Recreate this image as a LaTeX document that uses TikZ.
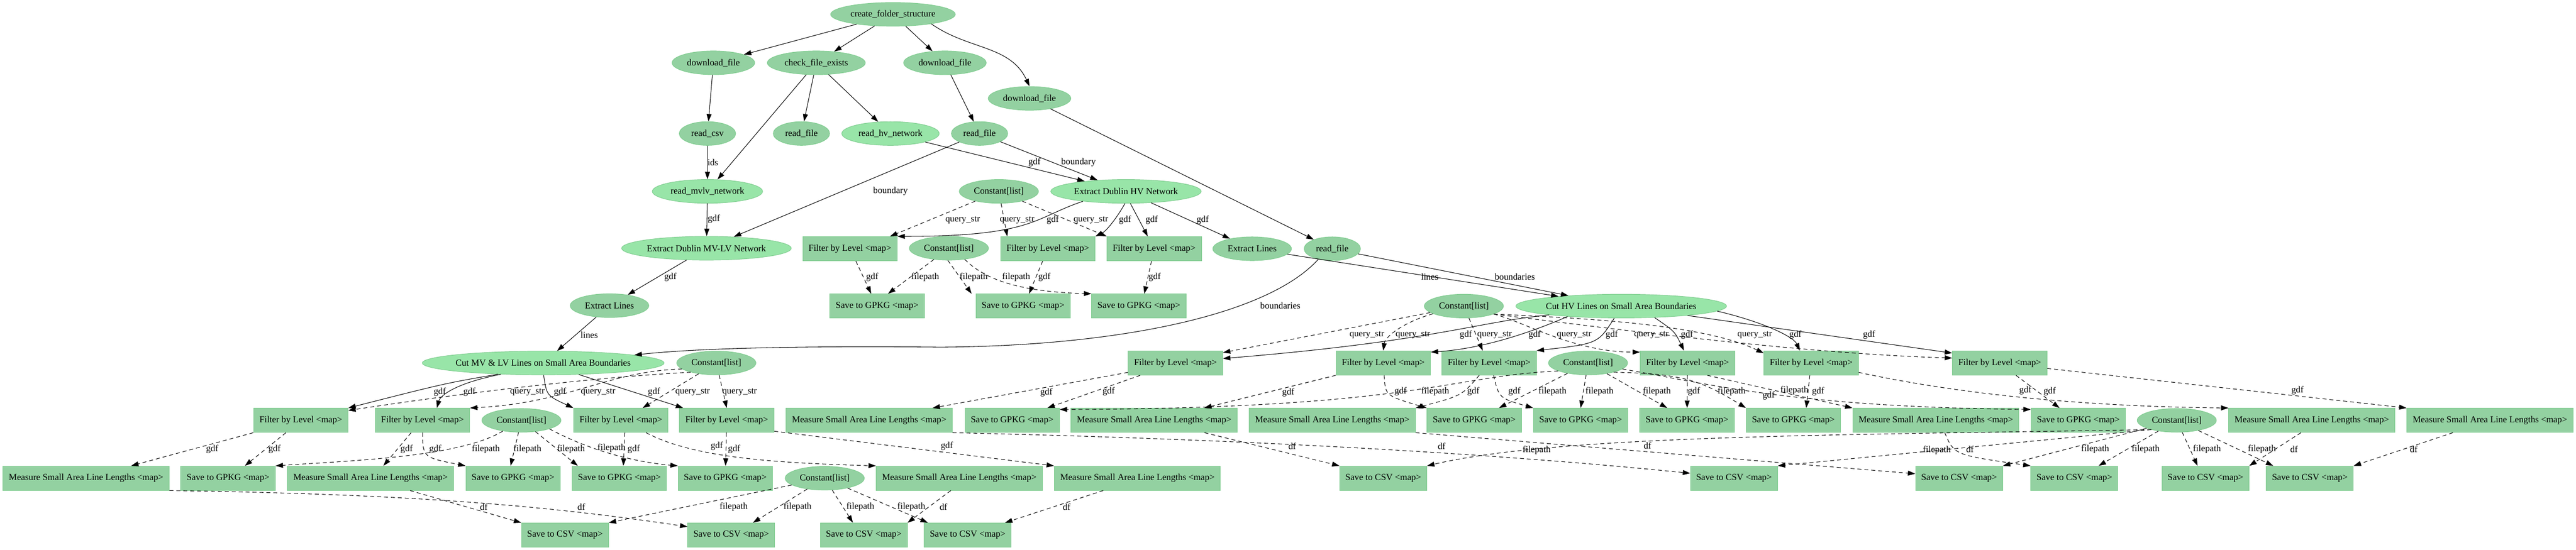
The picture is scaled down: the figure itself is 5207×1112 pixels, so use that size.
\documentclass[tikz,border=0pt]{standalone}
\usepackage{fontspec}
\setmainfont{Liberation Serif}
\usetikzlibrary{shapes.geometric,arrows.meta}
\definecolor{dk}{RGB}{147,209,161}
\definecolor{lt}{RGB}{152,229,168}
\definecolor{bd}{RGB}{126,204,142}
\newcommand{\mapt}{\textless map\textgreater}
\begin{document}
\begin{tikzpicture}[x=1pt,y=1pt,
  every node/.style={font=\fontsize{18.5}{20}\selectfont},
  elln/.style={ellipse, draw=bd, line width=1pt, fill=dk, minimum height=48pt, inner xsep=-12pt, inner ysep=0pt},
  lelln/.style={elln, fill=lt},
  kst/.style={elln, minimum width=160pt},
  boxn/.style={rectangle, draw=bd, line width=1pt, fill=dk, minimum height=49pt, inner sep=0pt},
  filt/.style={boxn, minimum width=191pt},
  gpkg/.style={boxn, minimum width=191pt},
  meas/.style={boxn, minimum width=336pt},
  csv/.style={boxn, minimum width=176pt},
  ed/.style={draw=black, line width=1.1pt, -{Triangle[length=15pt,width=10pt]}},
  dd/.style={ed, dash pattern=on 8pt off 6pt},
  lab/.style={inner sep=0pt}]
\useasboundingbox (0,0) rectangle (5207,-1112);
% ---------- nodes ----------
\node[elln, minimum width=252pt] (cfs) at (1805,-29) {create\_folder\_structure};
\node[elln, minimum width=167pt] (dl1) at (1442,-127) {download\_file};
\node[elln, minimum width=198pt] (cfe) at (1650,-127) {check\_file\_exists};
\node[elln, minimum width=167pt] (dl2) at (1910,-127) {download\_file};
\node[elln, minimum width=167pt] (dl3) at (2081,-199) {download\_file};
\node[elln, minimum width=114pt] (rcsv) at (1430,-270) {read\_csv};
\node[elln, minimum width=114pt] (rf1) at (1620,-270) {read\_file};
\node[lelln, minimum width=197pt] (rhv) at (1800,-270) {read\_hv\_network};
\node[elln, minimum width=114pt] (rf2) at (1980,-270) {read\_file};
\node[lelln, minimum width=223pt] (rmvlv) at (1430,-387) {read\_mvlv\_network};
\node[kst] (k1) at (2019,-387) {Constant[list]};
\node[lelln, minimum width=304pt] (ehv) at (2276,-387) {Extract Dublin HV Network};
\node[lelln, minimum width=343pt] (emvlv) at (1428,-502) {Extract Dublin MV-LV Network};
\node[filt] (fa1) at (1718,-503) {Filter by Level \mapt};
\node[kst] (k2) at (1918,-502) {Constant[list]};
\node[filt] (fa2) at (2118,-503) {Filter by Level \mapt};
\node[filt] (fa3) at (2333,-503) {Filter by Level \mapt};
\node[elln, minimum width=159pt] (elhv) at (2531,-503) {Extract Lines};
\node[elln, minimum width=114pt] (rf3) at (2693,-503) {read\_file};
\node[gpkg] (sa1) at (1773,-619) {Save to GPKG \mapt};
\node[gpkg] (sa2) at (2068,-619) {Save to GPKG \mapt};
\node[gpkg] (sa3) at (2302,-619) {Save to GPKG \mapt};
\node[elln, minimum width=159pt] (elmv) at (1232,-618) {Extract Lines};
\node[kst] (k3) at (2959,-619) {Constant[list]};
\node[lelln, minimum width=426pt] (cuthv) at (3277,-619) {Cut HV Lines on Small Area Boundaries};
\node[lelln, minimum width=489pt] (cutmv) at (1098,-734) {Cut MV \& LV Lines on Small Area Boundaries};
\node[kst] (k4) at (1448,-734) {Constant[list]};
\node[filt] (fb1) at (2376,-734) {Filter by Level \mapt};
\node[filt] (fb2) at (2796,-734) {Filter by Level \mapt};
\node[filt] (fb3) at (3010,-734) {Filter by Level \mapt};
\node[kst] (k5) at (3210,-734) {Constant[list]};
\node[filt] (fb4) at (3411,-734) {Filter by Level \mapt};
\node[filt] (fb5) at (3661,-734) {Filter by Level \mapt};
\node[filt] (fb6) at (4042,-734) {Filter by Level \mapt};
% row 850
\node[filt] (fc1) at (608,-850) {Filter by Level \mapt};
\node[filt] (fc2) at (854,-850) {Filter by Level \mapt};
\node[kst] (k6) at (1054,-850) {Constant[list]};
\node[filt] (fc3) at (1255,-850) {Filter by Level \mapt};
\node[filt] (fc4) at (1469,-850) {Filter by Level \mapt};
\node[meas] (mh1) at (1757,-850) {Measure Small Area Line Lengths \mapt};
\node[gpkg] (gh1) at (2046,-850) {Save to GPKG \mapt};
\node[meas] (mh2) at (2333,-850) {Measure Small Area Line Lengths \mapt};
\node[meas] (mh3) at (2693,-850) {Measure Small Area Line Lengths \mapt};
\node[gpkg] (gh2) at (2980,-850) {Save to GPKG \mapt};
\node[gpkg] (gh3) at (3195,-850) {Save to GPKG \mapt};
\node[gpkg] (gh4) at (3410,-850) {Save to GPKG \mapt};
\node[gpkg] (gh5) at (3625,-850) {Save to GPKG \mapt};
\node[meas] (mh4) at (3913,-850) {Measure Small Area Line Lengths \mapt};
\node[gpkg] (gh6) at (4201,-850) {Save to GPKG \mapt};
\node[kst] (k7) at (4400,-850) {Constant[list]};
\node[meas] (mh5) at (4673,-850) {Measure Small Area Line Lengths \mapt};
\node[meas] (mh6) at (5033,-850) {Measure Small Area Line Lengths \mapt};
% row 967
\node[meas] (mm1) at (174,-967) {Measure Small Area Line Lengths \mapt};
\node[gpkg] (gm1) at (461,-967) {Save to GPKG \mapt};
\node[meas] (mm2) at (749,-967) {Measure Small Area Line Lengths \mapt};
\node[gpkg] (gm2) at (1037,-967) {Save to GPKG \mapt};
\node[gpkg] (gm3) at (1252,-967) {Save to GPKG \mapt};
\node[gpkg] (gm4) at (1466,-967) {Save to GPKG \mapt};
\node[kst] (k8) at (1667,-967) {Constant[list]};
\node[meas] (mm3) at (1939,-967) {Measure Small Area Line Lengths \mapt};
\node[meas] (mm4) at (2299,-967) {Measure Small Area Line Lengths \mapt};
\node[csv] (ch1) at (2796,-967) {Save to CSV \mapt};
\node[csv] (ch2) at (3505,-967) {Save to CSV \mapt};
\node[csv] (ch3) at (3960,-967) {Save to CSV \mapt};
\node[csv] (ch4) at (4193,-967) {Save to CSV \mapt};
\node[csv] (ch5) at (4458,-967) {Save to CSV \mapt};
\node[csv] (ch6) at (4669,-967) {Save to CSV \mapt};
% row 1082
\node[csv] (cm1) at (1142,-1082) {Save to CSV \mapt};
\node[csv] (cm2) at (1478,-1082) {Save to CSV \mapt};
\node[csv] (cm3) at (1746,-1082) {Save to CSV \mapt};
\node[csv] (cm4) at (1956,-1082) {Save to CSV \mapt};
% ---------- edges: top ----------
\draw[ed] (cfs) -- (dl1);
\draw[ed] (cfs) -- (cfe);
\draw[ed] (cfs) -- (dl2);
\draw[ed] (cfs.-14) to[out=-35,in=115] (dl3.north);
\draw[ed] (dl1) -- (rcsv);
\draw[ed] (cfe) -- (rmvlv);
\draw[ed] (cfe) -- (rf1);
\draw[ed] (cfe) -- (rhv);
\draw[ed] (dl2) -- (rf2);
\draw[ed] (dl3) -- (rf3);
\draw[ed] (rcsv) -- (rmvlv) node[lab] at (1441,-328) {ids};
\draw[ed] (rhv) -- (ehv) node[lab] at (2091,-328) {gdf};
\draw[ed] (rf2) -- (ehv) node[lab] at (2180,-328) {boundary};
\draw[ed] (rf2) -- (emvlv) node[lab] at (1800,-387) {boundary};
\draw[ed] (rmvlv) -- (emvlv) node[lab] at (1443,-443) {gdf};
\draw[ed] (emvlv) -- (elmv) node[lab] at (1355,-560) {gdf};
\draw[ed] (elmv) -- (cutmv) node[lab] at (1191,-677) {lines};
\draw[ed] (rf3.-143) .. controls (2560,-640) and (2250,-700) .. (1900,-702) .. controls (1600,-699) and (1400,-705) .. (cutmv.5) node[lab] at (2588,-618) {boundaries};
\draw[ed] (elhv) -- (cuthv) node[lab] at (2890,-560) {lines};
\draw[ed] (rf3) -- (cuthv) node[lab] at (3062,-560) {boundaries};
% HV network filters
\draw[ed] (ehv.-167) .. controls (2090,-440) and (2090,-478) .. (fa1.north east) node[lab] at (2128,-445) {gdf};
\draw[ed] (ehv.-95) .. controls (2255,-445) and (2235,-468) .. (fa2.north east) node[lab] at (2274,-445) {gdf};
\draw[ed] (ehv.-70) -- ([xshift=-13pt]fa3.north) node[lab] at (2328,-445) {gdf};
\draw[ed] (ehv) -- (elhv) node[lab] at (2431,-445) {gdf};
\draw[dd] (k1) -- ([xshift=-15pt]fa1.north east) node[lab] at (1946,-445) {query\_str};
\draw[dd] (k1) -- ([xshift=-82pt]fa2.north) node[lab] at (2056,-445) {query\_str};
\draw[dd] (k1) -- (fa3.north west) node[lab] at (2205,-445) {query\_str};
\draw[dd] ([xshift=12pt]fa1.south) -- ([xshift=-12pt]sa1.north) node[lab] at (1763,-560) {gdf};
\draw[dd] (k2) -- ([xshift=22pt]sa1.north) node[lab] at (1870,-560) {filepath};
\draw[dd] (k2.-95) -- ([xshift=-8pt]sa2.north west) node[lab] at (1968,-560) {filepath};
\draw[dd] (k2.-35) .. controls (1990,-565) and (2060,-590) .. (sa3.north west) node[lab] at (2054,-560) {filepath};
\draw[dd] (fa2) -- ([xshift=12pt]sa2.north) node[lab] at (2111,-560) {gdf};
\draw[dd] (fa3) -- ([xshift=11pt]sa3.north) node[lab] at (2334,-560) {gdf};
% HV cut -> filters
\draw[ed] (cuthv.-173) .. controls (2990,-650) and (2900,-690) .. ([yshift=9pt]fb1.east) node[lab] at (2963,-677) {gdf};
\draw[dd] (k3) -- ([yshift=-4pt]fb1.north east) node[lab] at (2763,-677) {query\_str};
\draw[dd] (k3.-166) .. controls (2840,-650) and (2800,-680) .. (fb2.north) node[lab] at (2856,-677) {query\_str};
\draw[dd] (k3) -- ([xshift=-13pt]fb3.north) node[lab] at (3021,-677) {query\_str};
\draw[ed] (cuthv.-169) .. controls (3100,-670) and (3000,-705) .. ([yshift=-3pt]fb2.north east) node[lab] at (3102,-677) {gdf};
\draw[ed] (cuthv.-120) .. controls (3230,-695) .. (fb3.north east) node[lab] at (3258,-677) {gdf};
\draw[dd] (k3.-15) .. controls (3080,-650) and (3180,-712) .. ([yshift=-3pt]fb4.north west) node[lab] at (3182,-677) {query\_str};
\draw[dd] (k3.-15) .. controls (3250,-645) and (3450,-660) .. ([yshift=-5pt]fb5.north west) node[lab] at (3338,-677) {query\_str};
\draw[dd] (k3.-15) .. controls (3300,-670) and (3650,-715) .. ([yshift=10pt]fb6.west) node[lab] at (3547,-677) {query\_str};
\draw[ed] (cuthv.-19) .. controls (3385,-670) .. ([xshift=-7pt]fb4.north) node[lab] at (3410,-677) {gdf};
\draw[ed] (cuthv.-3) .. controls (3560,-650) and (3625,-680) .. ([xshift=-23pt]fb5.north) node[lab] at (3629,-677) {gdf};
\draw[ed] (cuthv) -- ([yshift=20pt]fb6.west) node[lab] at (3778,-677) {gdf};
% Constant -> HV gpkg
\draw[dd] (k5.-165) .. controls (2930,-760) and (2860,-826) .. ([yshift=-3pt]gh1.north east) node[lab] at (2901,-792) {filepath};
\draw[dd] (k5) -- ([xshift=50pt]gh2.north) node[lab] at (3138,-792) {filepath};
\draw[dd] (k5) -- (gh3.north) node[lab] at (3233,-792) {filepath};
\draw[dd] (k5) -- ([xshift=-40pt]gh4.north) node[lab] at (3349,-792) {filepath};
\draw[dd] (k5.-20) .. controls (3400,-755) and (3440,-770) .. (gh5.north west) node[lab] at (3500,-792) {filepath};
\draw[dd] (k5.-10) .. controls (3450,-775) and (3620,-823) .. ([yshift=-3pt]gh6.north west) node[lab] at (3627,-790) {filepath};
% HV filters -> gpkg / measure
\draw[dd] ([yshift=-19pt]fb1.west) -- ([xshift=128pt]mh1.north) node[lab] at (2115,-794) {gdf};
\draw[dd] (fb1) -- ([xshift=71pt]gh1.north) node[lab] at (2241,-792) {gdf};
\draw[dd] (fb2.south west) -- ([xshift=101pt]mh2.north) node[lab] at (2604,-794) {gdf};
\draw[dd] ([xshift=2pt]fb2.south) .. controls (2800,-800) .. (gh2.north west) node[lab] at (2831,-792) {gdf};
\draw[dd] ([xshift=-20pt]fb3.south) .. controls (2955,-800) .. (mh3.north east) node[lab] at (2978,-792) {gdf};
\draw[dd] ([xshift=9pt]fb3.south) .. controls (3030,-805) .. (gh3.north west) node[lab] at (3061,-792) {gdf};
\draw[dd] (fb4) -- (gh4) node[lab] at (3424,-792) {gdf};
\draw[dd] ([xshift=40pt]fb4.south) -- (mh4.north west) node[lab] at (3575,-800) {gdf};
\draw[dd] (fb5) -- ([xshift=26pt]gh5.north) node[lab] at (3675,-792) {gdf};
\draw[dd] ([yshift=-19pt]fb5.east) .. controls (3950,-795) and (4200,-822) .. (mh5.north west) node[lab] at (4094,-790) {gdf};
\draw[dd] ([xshift=33pt]fb6.south) -- ([xshift=-38pt]gh6.north) node[lab] at (4143,-792) {gdf};
\draw[dd] ([yshift=-11pt]fb6.east) -- (mh6.north west) node[lab] at (4644,-790) {gdf};
% HV measure -> csv
\draw[dd] (mh2) -- (ch1.north west) node[lab] at (2612,-902) {df};
\draw[dd] (mh1.south east) .. controls (2500,-888) and (3000,-915) .. ([yshift=10pt]ch2.west) node[lab] at (2914,-902) {df};
\draw[dd] (mh3.south east) -- ([yshift=9pt]ch3.west) node[lab] at (3330,-901) {df};
\draw[dd] ([xshift=18pt]mh4.south) .. controls (3950,-920) .. (ch4.north west) node[lab] at (3982,-908) {df};
\draw[dd] ([xshift=-22pt]mh5.south) -- (ch5.north east) node[lab] at (4637,-908) {df};
\draw[dd] ([xshift=-75pt]mh6.south) -- (ch6.north east) node[lab] at (4879,-908) {df};
% Constant -> HV csv
\draw[dd] (k7.-160) .. controls (3700,-880) and (3150,-880) .. (ch1.north east) node[lab] at (3106,-910) {filepath};
\draw[dd] (k7.-160) -- (ch2.north east) node[lab] at (3915,-910) {filepath};
\draw[dd] (k7) -- (ch3.north east) node[lab] at (4235,-908) {filepath};
\draw[dd] (k7) -- ([xshift=49pt]ch4.north) node[lab] at (4337,-908) {filepath};
\draw[dd] (k7) -- ([xshift=-16pt]ch5.north) node[lab] at (4461,-908) {filepath};
\draw[dd] (k7) -- ([xshift=-74pt]ch6.north) node[lab] at (4572,-908) {filepath};
% ---------- MV side ----------
\draw[ed] (cutmv.-166) .. controls (900,-775) .. (fc1.north east) node[lab] at (889,-793) {gdf};
\draw[ed] (cutmv.-165) .. controls (920,-775) and (890,-800) .. ([xshift=29pt]fc2.north) node[lab] at (949,-793) {gdf};
\draw[dd] (k4.-160) .. controls (1250,-760) and (1000,-785) .. ([yshift=-5pt]fc1.north east) node[lab] at (1066,-793) {query\_str};
\draw[ed] (cutmv.-88) .. controls (1105,-800) .. (fc3.north west) node[lab] at (1132,-793) {gdf};
\draw[dd] (k4.-170) .. controls (1230,-750) and (1150,-815) .. (fc2.north east) node[lab] at (1209,-793) {query\_str};
\draw[ed] (cutmv.-18) -- ([xshift=8pt]fc4.north west) node[lab] at (1322,-793) {gdf};
\draw[dd] (k4) -- ([xshift=44pt]fc3.north) node[lab] at (1400,-793) {query\_str};
\draw[dd] (k4) -- (fc4.north) node[lab] at (1495,-793) {query\_str};
% Constant -> MV gpkg
\draw[dd] (k6.-150) .. controls (930,-925) and (700,-932) .. (gm1.north east) node[lab] at (982,-908) {filepath};
\draw[dd] (k6) -- ([xshift=-5pt]gm2.north) node[lab] at (1066,-908) {filepath};
\draw[dd] (k6) -- ([xshift=12pt]gm3.north west) node[lab] at (1154,-908) {filepath};
\draw[dd] (k6.-17) .. controls (1200,-915) and (1290,-935) .. (gm4.north west) node[lab] at (1236,-906) {filepath};
% MV filters -> measure / gpkg
\draw[dd] (fc1.south west) -- ([xshift=91pt]mm1.north) node[lab] at (429,-908) {gdf};
\draw[dd] ([xshift=-30pt]fc1.south) -- ([xshift=34pt]gm1.north) node[lab] at (555,-908) {gdf};
\draw[dd] ([xshift=-23pt]fc2.south) -- ([xshift=26pt]mm2.north) node[lab] at (822,-908) {gdf};
\draw[dd] (fc2.south) .. controls (855,-925) .. (gm2.north west) node[lab] at (880,-908) {gdf};
\draw[dd] ([xshift=8pt]fc3.south) -- ([xshift=8pt]gm3.north) node[lab] at (1281,-908) {gdf};
\draw[dd] ([xshift=51pt]fc3.south) .. controls (1400,-925) and (1560,-936) .. (mm3.north west) node[lab] at (1449,-902) {gdf};
\draw[dd] (fc4) -- (gm4) node[lab] at (1484,-908) {gdf};
\draw[dd] ([yshift=3pt]fc4.south east) -- (mm4.north west) node[lab] at (1914,-902) {gdf};
% MV measure / constant -> csv
\draw[dd] (k8) -- (cm1.north east) node[lab] at (1483,-1025) {filepath};
\draw[dd] (k8) -- ([xshift=44pt]cm2.north) node[lab] at (1612,-1025) {filepath};
\draw[dd] (k8) -- ([xshift=-22pt]cm3.north) node[lab] at (1739,-1025) {filepath};
\draw[dd] (k8) -- ([xshift=8pt]cm4.north west) node[lab] at (1842,-1025) {filepath};
\draw[dd] ([xshift=80pt]mm2.south) -- (cm1.north west) node[lab] at (978,-1025) {df};
\draw[dd] (mm1.south east) .. controls (900,-1000) and (1150,-1030) .. ([yshift=-8pt]cm2.north west) node[lab] at (1175,-1025) {df};
\draw[dd] ([xshift=-17pt]mm3.south) -- (cm3.north east) node[lab] at (1907,-1025) {df};
\draw[dd] ([xshift=-69pt]mm4.south) -- ([xshift=-13pt]cm4.north east) node[lab] at (2156,-1025) {df};
\end{tikzpicture}
\end{document}
